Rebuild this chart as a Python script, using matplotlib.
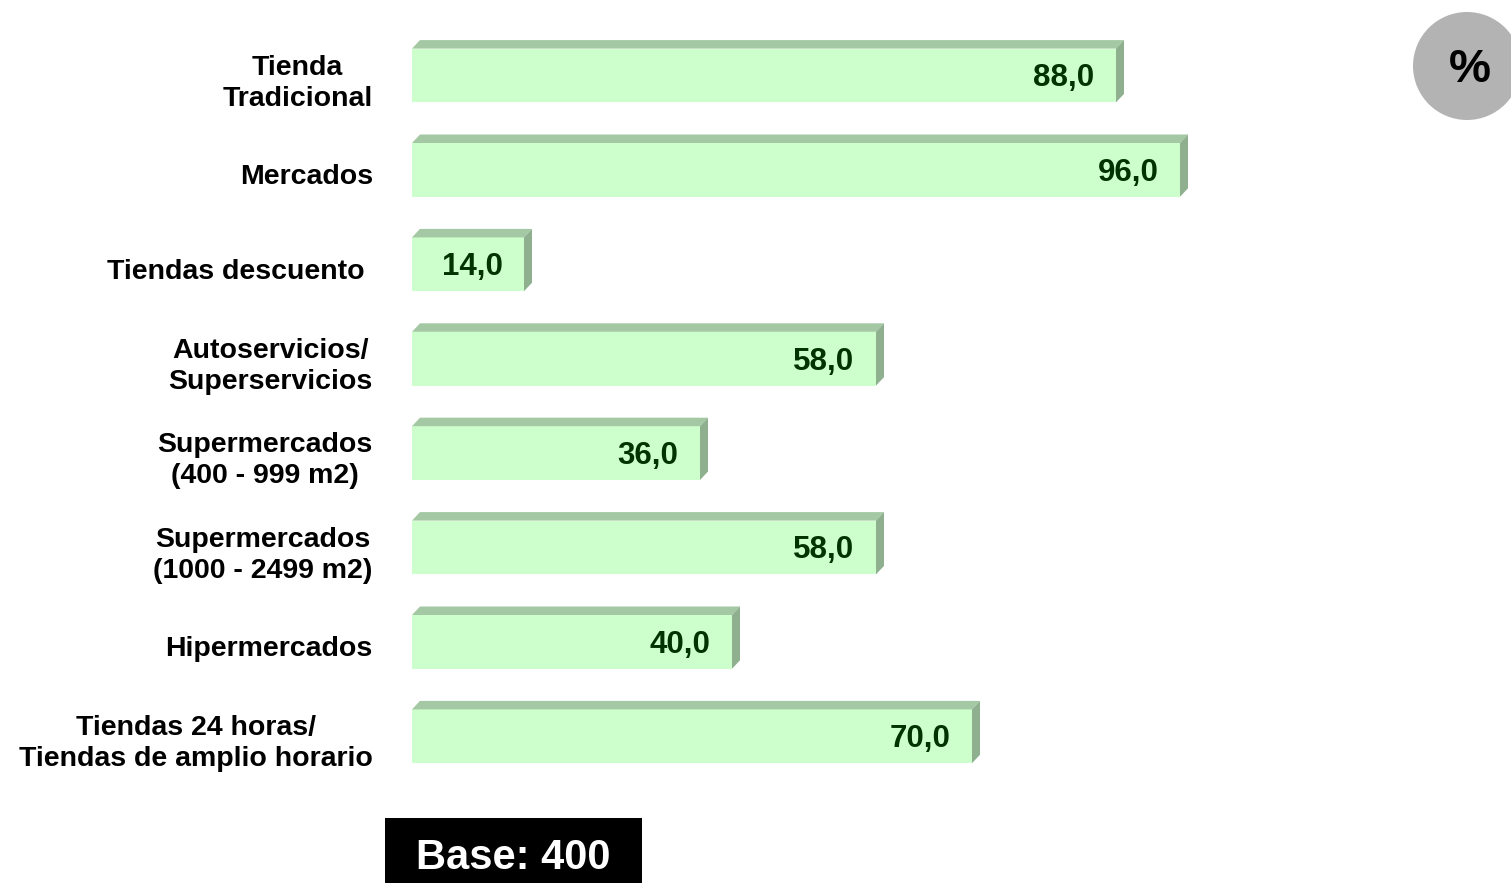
import matplotlib
matplotlib.use("Agg")
import matplotlib.pyplot as plt
from matplotlib.patches import Polygon, Rectangle, Circle

plt.rcParams['font.family'] = ['Liberation Sans', 'DejaVu Sans']

categories = [
    "Tienda\nTradicional",
    "Mercados",
    "Tiendas descuento ",
    "Autoservicios/\nSuperservicios",
    "Supermercados\n(400 - 999 m2)",
    "Supermercados\n(1000 - 2499 m2)",
    "Hipermercados",
    "Tiendas 24 horas/\nTiendas de amplio horario",
]
values = [88.0, 96.0, 14.0, 58.0, 36.0, 58.0, 40.0, 70.0]
value_labels = ["88,0", "96,0", "14,0", "58,0", "36,0", "58,0", "40,0", "70,0"]
base_text = "Base: 400"
unit_text = "%"

W, H = 1511, 883
fig = plt.figure(figsize=(W / 100, H / 100), dpi=100)

# background decoration axes in pixel coords
bg = fig.add_axes([0, 0, 1, 1])
bg.set_xlim(0, W)
bg.set_ylim(H, 0)
bg.axis('off')
bg.add_patch(Circle((1467, 66), 54, facecolor='#B3B3B3', edgecolor='none'))
bg.text(1470, 70, unit_text, ha='center', va='center', fontsize=34,
        fontweight='bold', color='black')
bg.add_patch(Rectangle((385, 818), 257, 70, facecolor='black', edgecolor='none'))
bg.text(513, 858, base_text, ha='center', va='center', fontsize=30,
        fontweight='bold', color='white')

# main axes
px_per_unit = 8.0
left_px = 412
top_px = 28.3
height_px = 755.2
ax = fig.add_axes([left_px / W, (H - top_px - height_px) / H,
                   100 * px_per_unit / W, height_px / H])
ax.set_xlim(0, 100)
ax.set_ylim(len(categories) - 0.5, -0.5)
ax.axis('off')

bar_h = 0.57
dx = 1.0
dy = 0.09
front = '#CCFFCC'
top_c = '#A3C8A3'
side_c = '#8FB08F'

ys = list(range(len(categories)))
ax.barh(ys, values, height=bar_h, color=front, edgecolor='none', zorder=2)
for y, v, lab, cat in zip(ys, values, value_labels, categories):
    t = y - bar_h / 2
    b = y + bar_h / 2
    ax.add_patch(Polygon([(0, t), (dx, t - dy), (v + dx, t - dy), (v, t)],
                         closed=True, facecolor=top_c, edgecolor='none', zorder=3))
    ax.add_patch(Polygon([(v, t), (v + dx, t - dy), (v + dx, b - dy), (v, b)],
                         closed=True, facecolor=side_c, edgecolor='none', zorder=3))
    ax.text(v - 2.7, y + 0.03, lab, ha='right', va='center', fontsize=22.5,
            fontweight='bold', color='#003300', zorder=4)
    ax.text(-4.9, y + 0.08, cat, ha='right', va='center', multialignment='center',
            fontsize=20.5, fontweight='bold', color='black', linespacing=1.25,
            clip_on=False)

fig.savefig('out.png', dpi=100)
